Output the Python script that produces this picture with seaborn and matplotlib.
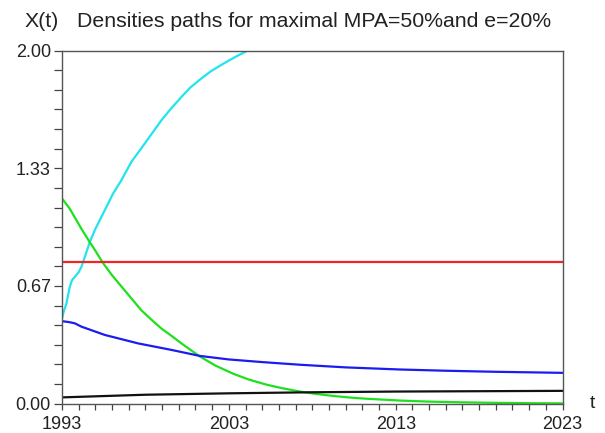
import numpy as np
import pandas as pd
import matplotlib
matplotlib.use("Agg")
import matplotlib.pyplot as plt
import seaborn as sns
from matplotlib.ticker import FixedLocator, MultipleLocator

sns.set_theme(style="ticks")
plt.rcParams['font.family'] = ['Liberation Sans', 'DejaVu Sans']

# ---- data ----
cyan_t = [1993.0, 1993.1, 1993.26, 1993.46, 1993.6, 1993.76, 1994.0, 1994.16, 1994.4,
          1994.66, 1995.0, 1995.56, 1996.06, 1996.56, 1997.16, 1997.96, 1998.5,
          1998.96, 1999.5, 2000.16, 2000.7, 2001.36, 2001.9, 2002.56, 2003.0,
          2003.5, 2004.12, 2005.0]
cyan_x = [0.481, 0.520, 0.566, 0.660, 0.700, 0.717, 0.745, 0.774, 0.840,
          0.915, 0.990, 1.095, 1.190, 1.266, 1.370, 1.474, 1.545,
          1.606, 1.668, 1.738, 1.792, 1.843, 1.882, 1.920, 1.944,
          1.970, 2.000, 2.040]

green_t = [1993.0, 1993.46, 1994.16, 1994.66, 1995.0, 1995.46, 1996.0, 1996.76, 1997.16,
           1997.76, 1998.4, 1998.96, 1999.5, 2000.2, 2000.96, 2001.26, 2002.2,
           2003.26, 2004.2, 2005.26, 2006.2, 2007.26, 2008.2, 2009.26, 2010.5,
           2011.5, 2013.26, 2015.0, 2017.0, 2019.0, 2021.0, 2023.0]
green_x = [1.162, 1.105, 0.991, 0.915, 0.866, 0.796, 0.727, 0.641, 0.596,
           0.528, 0.472, 0.425, 0.388, 0.338, 0.287, 0.267, 0.215,
           0.169, 0.136, 0.107, 0.087, 0.068, 0.055, 0.043, 0.032,
           0.026, 0.017, 0.011, 0.007, 0.004, 0.002, 0.001]

blue_t = [1993.0, 1993.4, 1993.76, 1994.16, 1995.56, 1997.56, 1999.56, 2001.26,
          2003.0, 2005.0, 2007.26, 2010.0, 2013.26, 2016.0, 2019.0, 2023.0]
blue_x = [0.467, 0.462, 0.455, 0.436, 0.389, 0.341, 0.304, 0.270,
          0.250, 0.235, 0.220, 0.205, 0.193, 0.186, 0.180, 0.174]

black_t = [1993.0, 1998.0, 2003.0, 2008.0, 2013.0, 2018.0, 2023.0]
black_x = [0.035, 0.050, 0.058, 0.064, 0.068, 0.070, 0.072]

red_t = [1993.0, 2023.0]
red_x = [0.80, 0.80]

x_major = [1993, 2003, 2013, 2023]
y_major = [0.0, 2/3, 4/3, 2.0]
y_labels = ["0.00", "0.67", "1.33", "2.00"]

title = "Densities paths for maximal MPA=50%and e=20%"

# ---- figure ----
fig = plt.figure(figsize=(6.05, 4.33), dpi=100)
ax = fig.add_axes([0.1025, 0.068, 0.8273, 0.815])

series = [
    (cyan_t, cyan_x, "#22e4ee"),
    (green_t, green_x, "#1ee01e"),
    (blue_t, blue_x, "#1c1cf0"),
    (black_t, black_x, "#111111"),
    (red_t, red_x, "#f02424"),
]
for t, v, c in series:
    df = pd.DataFrame({"t": t, "x": v})
    sns.lineplot(data=df, x="t", y="x", ax=ax, color=c, lw=1.6,
                 estimator=None, sort=False)

ax.set_xlim(1993, 2023)
ax.set_ylim(0, 2)
ax.set_xlabel("")
ax.set_ylabel("")

ax.xaxis.set_major_locator(FixedLocator(x_major))
ax.xaxis.set_minor_locator(MultipleLocator(1))
ax.yaxis.set_major_locator(FixedLocator(y_major))
ax.set_yticklabels(y_labels)
ax.yaxis.set_minor_locator(MultipleLocator(1/9))

ax.tick_params(axis="x", which="both", direction="out", length=4.5, width=0.9,
               color="#444444", labelsize=13, labelcolor="#222222", pad=4.5)
ax.tick_params(axis="y", which="both", direction="out", length=5.5, width=0.9,
               color="#444444", labelsize=13, labelcolor="#222222", pad=2.5)
for s in ax.spines.values():
    s.set_color("#555555")
    s.set_linewidth(1.0)

fig.text(0.040, 0.9376, "X(t)", fontsize=15.3, color="#222222", ha="left", va="baseline")
fig.text(0.127, 0.9376, title, fontsize=15.3, color="#222222", ha="left", va="baseline")
fig.text(0.975, 0.068, "t", fontsize=14, color="#222222", ha="left", va="center")

fig.savefig("out.png", dpi=100)
